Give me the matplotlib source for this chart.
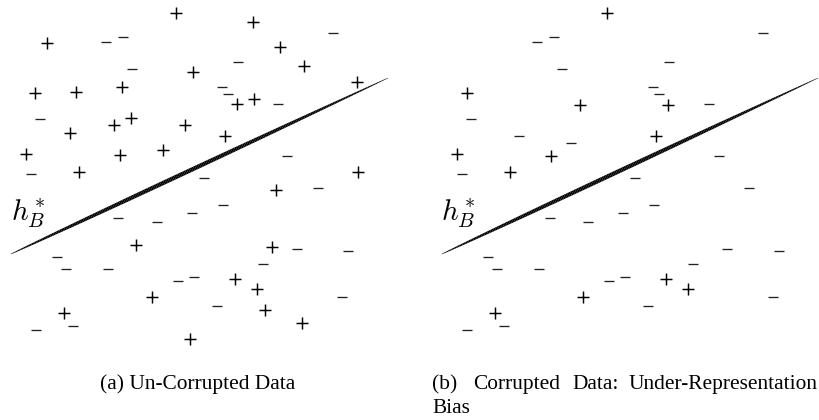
import numpy as np
import matplotlib
matplotlib.use("Agg")
import matplotlib.pyplot as plt
from matplotlib.collections import LineCollection

# ---------------- data (panel-local coordinates, y grows downward) ----------------
a_plus_x = [176, 253, 47, 280, 193, 304, 357, 35, 76, 122, 237, 254, 70, 114, 131, 185,
            225, 26, 120, 163, 79, 358, 276, 136, 272, 235, 257, 152, 265, 64, 302, 190]
a_plus_y = [13, 22, 43, 47, 72, 66, 82, 93, 92, 87, 104, 99, 133, 125, 118, 125,
            136, 154, 155, 150, 172, 172, 190, 245, 247, 279, 289, 297, 310, 313, 323, 339]
a_minus_x = [333, 106, 123, 132, 238, 222, 228, 278, 40, 287, 31, 204, 318, 118, 157,
             192, 223, 297, 348, 57, 66, 108, 263, 178, 194, 217, 342, 73, 36]
a_minus_y = [33, 42, 37, 69, 62, 87, 94, 104, 119, 156, 174, 178, 188, 218, 222,
             213, 205, 249, 251, 257, 269, 269, 264, 281, 277, 306, 297, 326, 330]

b_plus_x = [177, 37, 150, 238, 226, 27, 121, 80, 236, 258, 153, 65]
b_plus_y = [13, 93, 105, 105, 136, 154, 156, 172, 279, 289, 297, 313]
b_minus_x = [333, 107, 124, 132, 239, 223, 229, 279, 41, 89, 141, 289, 32, 205, 319,
             120, 158, 193, 224, 297, 349, 58, 67, 109, 263, 179, 195, 218, 343, 37, 74]
b_minus_y = [33, 42, 37, 69, 62, 87, 94, 104, 119, 136, 143, 156, 174, 178, 188,
             218, 222, 213, 205, 249, 251, 257, 269, 269, 264, 281, 277, 306, 297, 330, 326]

a_line_x = [11, 388]
a_line_y = [254, 78]
b_line_x = [12, 388]
b_line_y = [254, 78]

boundary_label = r'$h^*_B$'
caption_a = "(a) Un-Corrupted Data"
caption_b_words = ["(b)", "Corrupted", "Data:", "Under-Representation"]
caption_b_line2 = "Bias"

# ---------------- figure ----------------
W, H = 820, 420
fig = plt.figure(figsize=(W / 100, H / 100), dpi=100)
fig.patch.set_facecolor("white")

ax1 = fig.add_axes([0, 0, 410 / W, 1])
ax1.set_xlim(0, 410)
ax2 = fig.add_axes([430 / W, 0, 390 / W, 1])
ax2.set_xlim(0, 390)
for ax in (ax1, ax2):
    ax.set_ylim(H, 0)
    ax.axis("off")


def tapered(ax, xs, ys):
    t = np.linspace(0, 1, 240)
    x = xs[0] + t * (xs[1] - xs[0])
    y = ys[0] + t * (ys[1] - ys[0])
    pts = np.column_stack([x, y]).reshape(-1, 1, 2)
    segs = np.concatenate([pts[:-1], pts[1:]], axis=1)
    tm = 0.5 * (t[:-1] + t[1:])
    w = 0.3 + 2.8 * np.sin(np.pi * tm ** 0.85) ** 0.8
    lc = LineCollection(segs, linewidths=w, colors="black", capstyle="butt")
    ax.add_collection(lc)


def panel(ax, px, py, mx, my, lx, ly):
    ax.scatter(px, py, marker="+", s=80, linewidths=1.05, color="black")
    ax.scatter(mx, my, marker="_", s=52, linewidths=0.95, color="#222222")
    tapered(ax, lx, ly)
    ax.text(11, 220, boundary_label, fontsize=21, va="baseline", ha="left",
            math_fontfamily="cm")


panel(ax1, a_plus_x, a_plus_y, a_minus_x, a_minus_y, a_line_x, a_line_y)
panel(ax2, b_plus_x, b_plus_y, b_minus_x, b_minus_y, b_line_x, b_line_y)

serif = ["Liberation Serif", "DejaVu Serif"]
fs = 15.4
fig.text(197.5 / W, 1 - 389 / H, caption_a, family=serif, fontsize=fs,
         va="baseline", ha="center")
for word, xl, ha in zip(caption_b_words, [432, 473, 572, 818],
                        ["left", "left", "left", "right"]):
    fig.text(xl / W, 1 - 389 / H, word, family=serif, fontsize=fs,
             va="baseline", ha=ha)
fig.text(432 / W, 1 - 413 / H, caption_b_line2, family=serif, fontsize=fs,
         va="baseline", ha="left")

fig.savefig("out.png", dpi=100, facecolor="white")
